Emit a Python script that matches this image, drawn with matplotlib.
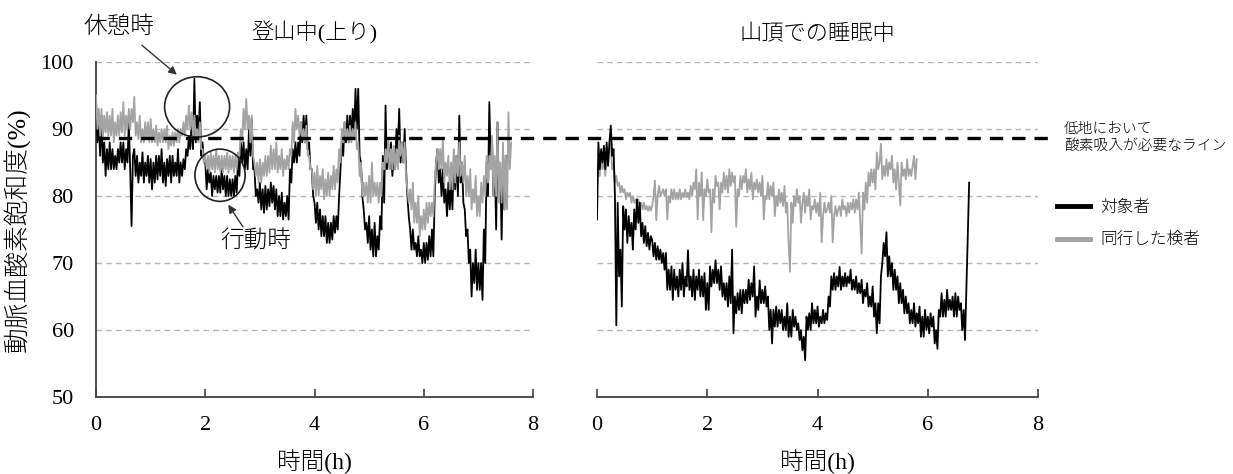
import numpy as np
import matplotlib
matplotlib.use("Agg")
import matplotlib.pyplot as plt
from matplotlib.lines import Line2D
from matplotlib.patches import Ellipse
from matplotlib.transforms import blended_transform_factory

plt.rcParams["font.family"] = ["Liberation Serif", "Noto Sans CJK JP"]

T_STEP = 0.025  # hours between readings

# 登山中(上り): subject (black) and accompanying examiner (gray), SpO2 %
climb_subject = [
    94, 88, 91, 86, 92, 85, 88, 83, 87, 84,
    88, 84, 87, 84, 86, 84, 87, 85, 88, 85,
    88, 84, 87, 85, 91, 84, 75.5, 86, 87, 83,
    86, 82, 85, 83, 86.5, 82, 85, 83, 86, 82,
    85.5, 81, 85, 82, 86, 82.5, 86, 83, 87, 82,
    85, 81.5, 85.5, 83, 86, 82, 86, 83, 85, 83,
    87, 82, 85, 83, 85.5, 84, 87, 86, 89, 87,
    91, 87, 97.5, 88, 92, 89, 94, 86, 88, 85,
    85, 81, 84, 82, 83.5, 80, 83, 81, 83, 80.5,
    83, 80.5, 84, 81, 83, 80, 83, 80, 82.5, 80,
    82.5, 80, 83, 80.5, 85.5, 83, 88, 85, 88, 84,
    87, 84, 90, 86, 91.5, 84, 84, 80, 81, 79,
    82, 78, 81, 77.5, 81.5, 78, 81, 78.5, 82, 79,
    81.5, 78, 81, 77, 80, 77, 80.5, 76.5, 79, 77,
    80, 76.5, 84, 82, 87, 85, 88, 85, 88, 86,
    91, 88, 92, 88, 92, 87, 88, 84, 84, 80,
    79, 76, 79, 75, 78, 74, 77, 74, 77, 73,
    76, 73, 76, 73.5, 77, 74.5, 77, 75, 80, 84,
    88, 86, 91, 88, 92, 88, 92, 89, 93, 89,
    96, 90, 96, 86, 85, 80, 78, 75, 76, 73,
    77, 72, 75, 71, 76, 71, 74, 72, 77, 75,
    86, 79, 93.5, 84, 88, 84, 88, 83, 86, 84,
    90, 87, 93, 85, 88, 85, 90, 84, 80, 77,
    75, 72, 75, 72, 73, 71, 74, 71, 72, 70,
    73, 70, 73, 70.5, 74, 71, 75, 71, 80, 85,
    87, 82, 84, 80, 84, 79, 81, 77, 82, 78,
    82, 78, 86, 81, 86, 80, 92, 82, 85, 79,
    78, 74, 75, 70, 72, 65, 70, 67, 72, 66,
    70, 66, 70, 64.5, 75, 70, 85, 80, 94, 85,
    88, 80, 85, 75, 91, 80, 84, 73.5, 85, 78,
    86,
]
climb_examiner = [
    95, 90, 93, 89, 93, 88.5, 92, 89.5, 92.5, 89,
    92, 89, 93, 88, 91, 89, 92, 89, 92.5, 89.5,
    94, 89, 92, 90, 93, 90, 93, 91, 94.8, 89,
    91, 88.5, 92, 88, 90, 88, 91, 88.5, 91, 88,
    91.5, 88, 90, 88, 90.5, 87.5, 89.5, 88, 90, 88,
    90, 88, 90.5, 87, 89, 87.5, 89.5, 87.5, 89.5, 88,
    90, 88, 90, 89, 91, 89, 92, 90, 93.5, 90,
    92.5, 89, 92, 88.5, 90, 88, 91, 87, 87, 85,
    86, 84, 86, 83.5, 86.5, 84, 86, 83.5, 87, 84,
    86, 83.5, 86, 83.5, 86, 84, 86.5, 83.5, 86, 84,
    86, 83.5, 86, 84, 86.5, 86, 90, 88, 93, 90,
    94.5, 90, 92, 88, 92, 86, 85, 83, 85, 82,
    85.5, 82, 85, 83, 86, 83, 86, 83.5, 87.5, 84,
    87, 84, 88, 83.5, 86, 84, 87, 83, 85.5, 84,
    86, 84, 87, 86, 91, 88, 93, 90, 92, 89,
    91, 88.5, 90, 88, 90.5, 86, 86, 84, 84, 81,
    83.5, 80, 84.5, 80, 83, 81, 84, 79.5, 82.5, 80,
    83.5, 80, 83, 81, 84.5, 81, 84, 82, 87, 85,
    90, 88, 91, 88.5, 90, 88, 90.5, 88, 90, 88.5,
    91, 87, 88, 83, 85, 80, 82, 80, 82, 79,
    83, 79, 85, 80, 82, 80, 82, 79, 82, 80,
    85, 84, 87, 85, 88.5, 84, 87, 84, 87.5, 84,
    87, 84, 89, 86, 88, 85, 88, 83, 81, 79,
    81, 78, 82, 76, 79, 76, 80, 74, 77, 75,
    78, 75, 79, 76, 79, 77, 79, 77, 82, 85,
    87, 84, 87, 84, 88.5, 82, 85, 83, 86, 81,
    85, 81, 87, 82, 86, 83, 88, 83, 85, 82,
    86, 80, 83, 80, 84, 78, 81, 79, 83, 77,
    80, 77, 82, 79, 83, 80, 86, 82, 86, 84,
    89, 80, 86, 80, 91, 79, 85, 79, 88, 78,
    86, 78, 92.5, 84, 88,
]

# 山頂での睡眠中
sleep_subject = [
    76.5, 88, 84, 87, 85, 87.5, 84, 88, 84.5, 88,
    90.5, 86, 87, 80, 60.7, 79, 68, 72, 63.5, 78.5,
    75, 78, 73, 77, 74, 76, 72, 78, 75, 79.5,
    76, 79, 74, 76, 73, 75.5, 72.5, 74.5, 72, 74,
    73.5, 71, 73, 70.5, 72.5, 70.5, 72, 70, 71.5, 69,
    71.5, 66, 69, 66, 69.5, 64.5, 69, 66, 68, 65,
    69, 66, 70, 65, 68, 66.5, 71.9, 66, 68, 65,
    69, 64.5, 68, 66, 69, 65, 68, 65, 68.5, 63,
    67, 63, 69.5, 66.5, 69, 67, 70.4, 67, 69, 66,
    69.5, 65, 67, 64.5, 67, 63.5, 68, 64, 72, 59.5,
    65, 62.5, 65.5, 63, 66, 62.5, 66, 64, 66, 64,
    67.5, 64.5, 67, 65, 69.5, 62, 65, 63, 67.4, 64,
    66, 64, 66.5, 63.5, 65, 60, 63, 58, 63, 60.5,
    63.5, 60.5, 63, 61, 63, 60, 62, 60, 64, 59,
    62, 59, 63, 60.5, 62, 60, 61, 58.5, 60, 57,
    59, 55.5, 62, 60, 62.5, 60, 64, 61, 63, 61,
    63.5, 60.5, 62, 61, 63, 61, 62.5, 61.5, 65, 63.5,
    68, 66, 68.5, 66, 68, 66.5, 69.4, 66, 68, 66.5,
    68.5, 66.5, 68, 67, 69, 66, 67.5, 66, 68, 65.5,
    67, 65.5, 67.5, 64, 66, 65, 67, 63.5, 65, 63.5,
    66.5, 62, 64, 59.5, 64, 61, 68, 70, 73, 71,
    74.6, 68, 71, 68, 70, 66, 69, 66, 68, 64,
    67, 64, 66, 62.5, 65, 62.5, 64, 61, 63, 61,
    64, 60.5, 62.5, 61, 63.5, 59, 62, 59, 63, 60,
    62, 59.5, 62.5, 60.5, 62, 58, 60, 57.2, 63, 62,
    65.5, 62, 64.5, 62, 66, 63, 64.5, 63, 65, 62,
    65.5, 62, 65, 63, 64, 60, 63, 58.5, 66, 74,
    82,
]
sleep_examiner = [
    82, 84, 83, 86, 84, 85.5, 83, 86, 85, 87,
    87.8, 84, 85, 82, 83, 81.5, 82, 80.5, 81.5, 80.5,
    81, 79.5, 80.5, 80, 80.5, 79, 80, 79, 79.5, 78.5,
    79.5, 78.5, 79, 78, 79, 78, 78.5, 77.8, 78.5, 77.8,
    78.5, 80, 82.3, 76.4, 80, 81.5, 80, 80.5, 81, 80,
    81, 76.5, 80, 79, 81, 79.5, 81, 79.5, 80.5, 79.5,
    81, 79.5, 80.5, 79.8, 81, 79.8, 80.5, 79.5, 81.5, 80,
    82, 81, 84, 76.5, 82, 80, 83.5, 76.4, 81, 80,
    82.5, 80.5, 81, 74.6, 81, 79, 83, 81.5, 82, 78,
    82, 80.5, 83.5, 81, 83, 80.5, 84, 81.5, 83.5, 82,
    83, 75.4, 81, 80, 83, 81, 83, 82, 84, 80.5,
    82.5, 81, 83.5, 79.5, 82, 81, 82.5, 80.5, 82, 80,
    83, 76.5, 80, 79.5, 82, 79.5, 81.5, 80, 82, 77,
    80, 78.5, 81, 79, 80.5, 78.5, 81.5, 77.5, 79, 73,
    68.7, 79, 76, 80, 78.5, 81, 79, 80, 76, 79,
    80.5, 77.5, 80, 78.5, 81, 76.5, 78.5, 78, 79.5, 77.5,
    79, 77, 80.5, 73.1, 77, 79, 77.5, 78, 79, 77.5,
    80, 73.1, 77, 78.5, 77, 78, 78.5, 77, 79.5, 78,
    78.5, 77, 79, 77.5, 79, 78, 79.5, 77.5, 79.5, 78,
    80.5, 76, 71.4, 80.5, 78, 82, 79, 83.5, 81.5, 84,
    82, 84, 81, 86.5, 84, 85, 87.8, 82.5, 84.5, 83,
    85.5, 83, 85, 84, 86, 82, 84, 81, 85, 82,
    78.6, 85, 83, 84, 82.5, 85.5, 83, 84, 83, 84.5,
    86, 82.5, 85.5,
]

THRESHOLD = 88.7
GRID_LEVELS = [60, 70, 80, 90, 100]
X_TICKS = [0, 2, 4, 6, 8]
Y_TICKS = [50, 60, 70, 80, 90, 100]

BLACK = "#000000"
GRAY = "#A3A3A3"
SPINE = "#404040"
JP_WEIGHT = "light"


def style_axes(ax, show_y):
    ax.set_xlim(0, 8)
    ax.set_ylim(50, 100)
    ax.set_xticks(X_TICKS)
    ax.set_yticks(Y_TICKS)
    for y in GRID_LEVELS:
        ax.axhline(y, color="#B5B5B5", lw=1.0, ls=(0, (4, 3)), zorder=0)
    ax.spines["top"].set_visible(False)
    ax.spines["right"].set_visible(False)
    ax.spines["bottom"].set_color(SPINE)
    ax.spines["bottom"].set_linewidth(1.3)
    ax.tick_params(axis="x", direction="in", length=6, width=1.2, color=SPINE,
                   pad=14, labelsize=16)
    if show_y:
        ax.spines["left"].set_color(SPINE)
        ax.spines["left"].set_linewidth(1.3)
        ax.tick_params(axis="y", length=0, pad=16, labelsize=16)
    else:
        ax.spines["left"].set_visible(False)
        ax.tick_params(axis="y", length=0, labelleft=False)
    ax.set_xlabel("時間(h)", fontsize=17, fontweight=JP_WEIGHT)
    ax.xaxis.set_label_coords(0.5, -0.155)


fig = plt.figure(figsize=(12.33, 4.74), dpi=100)
ax1 = fig.add_axes([0.0779, 0.1624, 0.3544, 0.7068])
ax2 = fig.add_axes([0.4842, 0.1624, 0.3577, 0.7068])

t_cs = np.arange(len(climb_subject)) * T_STEP
t_ce = np.arange(len(climb_examiner)) * T_STEP
t_ss = np.arange(len(sleep_subject)) * T_STEP
t_se = np.arange(len(sleep_examiner)) * T_STEP

ax1.plot(t_cs, climb_subject, color=BLACK, lw=1.3, zorder=3)
ax1.plot(t_ce, climb_examiner, color=GRAY, lw=1.3, zorder=4)
ax2.plot(t_se, sleep_examiner, color=GRAY, lw=1.3, zorder=3)
ax2.plot(t_ss, sleep_subject, color=BLACK, lw=1.3, zorder=4)

style_axes(ax1, True)
style_axes(ax2, False)

ax1.set_ylabel("動脈血酸素飽和度(%)", fontsize=18.5, fontweight=JP_WEIGHT)
ax1.yaxis.set_label_coords(-0.15, 0.5)

ax1.set_title("登山中(上り)", fontsize=16, pad=16, fontweight=JP_WEIGHT)
ax2.set_title("山頂での睡眠中", fontsize=16, pad=16, fontweight=JP_WEIGHT)

# threshold line running across both panels
trans = blended_transform_factory(fig.transFigure, ax1.transData)
fig.add_artist(Line2D([96 / 1233, 1055 / 1233], [THRESHOLD, THRESHOLD], transform=trans,
                      color="black", lw=2.4, dashes=(4, 2.7), zorder=6))
fig.text(1064 / 1233, 1 - 137.5 / 474, "低地において\n酸素吸入が必要なライン",
         fontsize=10.6, va="center", ha="left", linespacing=1.3, fontweight=JP_WEIGHT)

# annotations on the climbing panel
ax1.add_patch(Ellipse((1.85, 93.3), 1.19, 9.0, fill=False, ec="#222222", lw=1.2,
                      zorder=7, clip_on=False))
ax1.add_patch(Ellipse((2.27, 83.1), 0.92, 7.8, fill=False, ec="#222222", lw=1.2,
                      zorder=7, clip_on=False))
ax1.text(0.42, 105.2, "休憩時", fontsize=17, ha="center", va="center", clip_on=False,
         fontweight=JP_WEIGHT)
ax1.text(2.93, 73.3, "行動時", fontsize=17, ha="center", va="center", zorder=8,
         fontweight=JP_WEIGHT)
arrow = dict(arrowstyle="-|>", color="#333333", lw=1.0, mutation_scale=12,
             shrinkA=0, shrinkB=0)
ax1.annotate("", xy=(1.48, 98.1), xytext=(0.84, 102.5), arrowprops=arrow,
             annotation_clip=False)
ax1.annotate("", xy=(2.42, 78.7), xytext=(2.69, 75.4), arrowprops=arrow,
             annotation_clip=False)

handles = [Line2D([], [], color=BLACK, lw=3.5), Line2D([], [], color=GRAY, lw=3.5)]
fig.legend(handles, ["対象者", "同行した検者"], loc="center left",
           bbox_to_anchor=(1042 / 1233, 1 - 224 / 474), frameon=False,
           prop={"size": 12, "weight": JP_WEIGHT},
           handlelength=2.0, handletextpad=0.6, labelspacing=1.0)

fig.savefig("out.png", dpi=100)
